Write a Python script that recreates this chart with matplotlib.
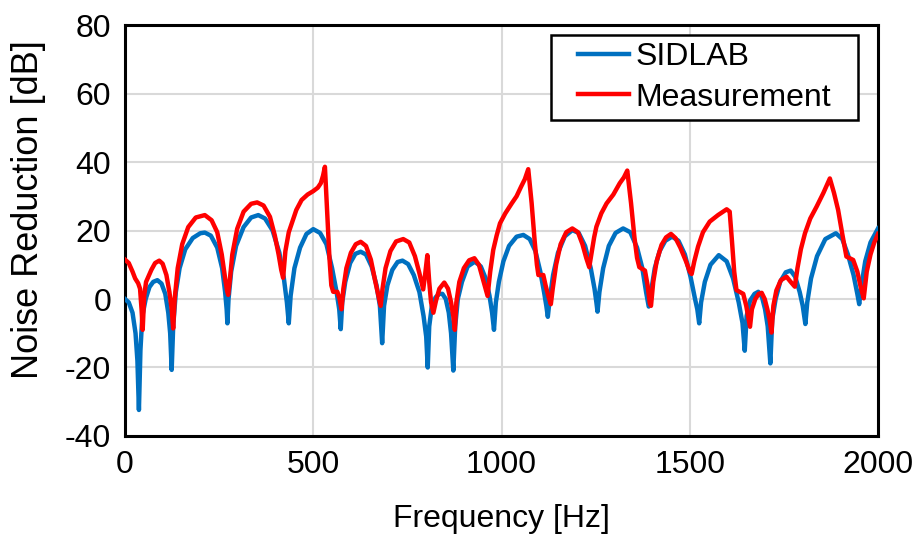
import matplotlib
matplotlib.use("Agg")
import matplotlib.pyplot as plt
from matplotlib.patches import Rectangle

plt.rcParams['font.family'] = ['Liberation Sans', 'DejaVu Sans']
plt.rcParams['axes.unicode_minus'] = False

# SIDLAB prediction (frequency [Hz], noise reduction [dB])
sid_f = [0, 10, 20, 28, 33, 37, 41, 46, 55, 65, 75, 86, 97, 107, 115, 120, 124, 128, 135, 145,
         160, 180, 200, 212, 228, 245, 258, 266, 270, 272, 275, 282, 295, 315, 335, 354, 372, 392,
         410, 422, 430, 435, 440, 450, 465, 482, 500, 518, 535, 550, 562, 569, 573, 577, 585, 598,
         612, 626, 640, 655, 668, 677, 683, 688, 697, 710, 724, 737, 752, 767, 782, 793, 800, 804,
         808, 815, 825, 835, 843, 852, 860, 866, 872, 877, 884, 895, 910, 929, 945, 958, 968, 975,
         980, 985, 993, 1005, 1020, 1040, 1058, 1075, 1090, 1103, 1113, 1119, 1123, 1128, 1137,
         1150, 1168, 1188, 1205, 1222, 1237, 1247, 1252, 1255, 1260, 1270, 1285, 1303, 1323, 1342,
         1360, 1374, 1384, 1391, 1397, 1407, 1420, 1435, 1453, 1470, 1487, 1502, 1514, 1520, 1525,
         1530, 1540, 1555, 1577, 1598, 1615, 1630, 1640, 1646, 1651, 1660, 1672, 1682, 1692, 1700,
         1707, 1714, 1719, 1728, 1740, 1755, 1768, 1780, 1792, 1800, 1807, 1812, 1822, 1838, 1860,
         1888, 1905, 1920, 1935, 1945, 1950, 1956, 1966, 1980, 2000]
sid_db = [0, -1, -4, -10, -18, -32.4, -15, -5, 0, 3.5, 5, 5.5, 4.5, 1.5, -4, -10, -20.7, -8, 2, 9,
          14.5, 17.8, 19.2, 19.4, 18.5, 15, 9, 2, -3, -7.1, 0, 8, 15.5, 21, 23.8, 24.5, 23.5, 20,
          13.5, 6, -1, -7.1, 1, 9, 15, 19, 20.4, 19.3, 16, 9, 2, -3, -8.8, -1, 5, 10.5,
          13.2, 13.8, 13, 9.5, 4, -2, -12.9, -2, 4, 8.5, 10.8, 11.2, 10.2, 7, 2, -5, -11, -20,
          -8, -2, 0.5, 1.5, 1.5, 0, -4, -10, -20.9, -8, 0, 5, 9.5, 10.9, 9.5, 6, 1, -4,
          -9, -1, 5, 11, 15.5, 18.2, 18.7, 17.5, 14, 8, 2, -2, -5.2, 0, 7,
          13.5, 18.3, 20.1, 19.3, 15.5, 9, 3, -1, -3.7, 2, 9, 15.5, 19.3, 20.6, 19.5,
          15, 9, 2, -2.2, 2, 9, 14, 17, 18.2, 17, 13, 6.5, 0, -3, -7.1,
          -1, 5, 10, 12.8, 11, 6, -1, -7, -15.1, -5, -0.5, 1.5, 2.1, 0.5, -3,
          -8, -18.8, -6, 0, 5, 7.8, 8.3, 6.5, 2, -2, -7.3, -1, 6, 12.5, 17.5,
          19.2, 17.5, 13, 7, 1.5, -1.5, 4, 11, 16.5, 20.6]

# Measurement
meas_f = [0, 10, 20, 27, 35, 40, 44, 47, 51, 56, 62, 70, 80, 91, 100, 110, 118, 124, 128, 132,
          140, 152, 168, 188, 212, 230, 245, 257, 266, 271, 274, 278, 285, 298, 315, 335, 351, 368,
          385, 398, 408, 415, 420, 426, 435, 443, 455, 469, 485, 500, 512, 520, 526, 531, 537, 543,
          548, 553, 564, 570, 575, 580, 588, 600, 613, 626, 640, 653, 665, 673, 679, 684, 692, 705,
          720, 739, 755, 770, 782, 792, 797, 803, 808, 813, 819, 826, 835, 848, 858, 866, 872, 876,
          880, 888, 900, 914, 928, 940, 950, 956, 963, 970, 978, 987, 996, 1010, 1027, 1040, 1052,
          1062, 1071, 1080, 1088, 1094, 1098, 1111, 1117, 1124, 1131, 1136, 1145, 1157, 1172, 1188,
          1203, 1215, 1225, 1233, 1240, 1246, 1252, 1265, 1279, 1297, 1314, 1325, 1334, 1344, 1353,
          1360, 1366, 1381, 1388, 1394, 1397, 1403, 1412, 1425, 1437, 1450, 1462, 1475, 1490, 1500,
          1505, 1512, 1522, 1535, 1553, 1575, 1598, 1606, 1612, 1618, 1624, 1642, 1650, 1655, 1660,
          1665, 1674, 1683, 1691, 1699, 1706, 1712, 1717, 1722, 1730, 1742, 1757, 1768, 1779, 1786,
          1795, 1806, 1820, 1837, 1855, 1872, 1883, 1894, 1905, 1916, 1934, 1945, 1955, 1962, 1970,
          1980, 1990, 2000]
meas_db = [11.5, 10.5, 8, 6, 4.6, 3, -3, -9, 1, 5, 6.5, 8.5, 10.5, 11.2, 10.3, 7, 2, -3, -8.6, 0,
           9, 16, 21, 23.8, 24.5, 23, 19.5, 13, 6, 2.5, 1.2, 5, 13, 20.5, 25.5, 27.8, 28.2, 27.3,
           24, 18.5, 13, 8.5, 6.2, 14, 19.5, 22.1, 26, 28.9, 30.5, 31.5, 32.5, 33.8, 36, 38.6, 25, 12,
           4, 2.1, 2.1, 0, -3, 3, 9, 13.5, 16, 16.7, 15.5, 11.5, 5, 1, -2, 3, 9, 14,
           16.8, 17.5, 16.5, 12.5, 7.5, 2.8, 7, 12.8, 5, -1, -4, -0.5, 3, 4.8, 3, -1, -5, -9,
           -1, 5, 9, 11.3, 11.9, 10, 6, 3.6, 0.9, 8, 14.3, 18.5, 22.1, 25, 27.9, 30, 32.8,
           35, 37.9, 28, 17, 10, 7, 7, 4, 1, -1.5, 3, 10, 16, 19.5, 20.6,
           19.5, 16, 12, 9.3, 14, 18, 21.1, 25, 27.9, 30.5, 33.8, 35.5, 37.5, 28, 18,
           12, 9.3, 8.3, 4, -1.3, -2, 5, 11, 15.8, 18, 19, 17.8, 15, 11, 8,
           7.3, 11, 15.3, 19.5, 22.6, 24.5, 26.2, 25.5, 17, 8, 2.6, 1.5, -2, -5, -8.1,
           -3, 0, 1.5, 1.8, 0, -3, -6, -9.8, -2, 2.5, 5.5, 6.5, 5, 3.6, 9,
           14.5, 19.2, 23.5, 27, 31, 35.2, 31, 26, 19, 12.4, 11.4, 8, 3, 0.2, 8,
           13, 16.5, 19]

xticks = [0, 500, 1000, 1500, 2000]
yticks = [-40, -20, 0, 20, 40, 60, 80]

fig = plt.figure(figsize=(9.15, 5.38), dpi=100)
ax = fig.add_axes([0.1366, 0.1896, 0.8230, 0.7639])

ax.plot(sid_f, sid_db, color='#0070C0', lw=3.2, label='SIDLAB', zorder=3,
        solid_joinstyle='round')
ax.plot(meas_f, meas_db, color='#FF0000', lw=3.2, label='Measurement', zorder=4,
        solid_joinstyle='round')

ax.set_xlim(0, 2000)
ax.set_ylim(-40, 80)
ax.set_xticks(xticks)
ax.set_yticks(yticks)
ax.grid(True, color='#d9d9d9', lw=1.5)
ax.set_axisbelow(True)
ax.tick_params(length=0, labelsize=23, pad=10)
for s in ax.spines.values():
    s.set_linewidth(2.2)
    s.set_color('black')

ax.set_xlabel('Frequency [Hz]', fontsize=23)
ax.xaxis.set_label_coords(0.5, -0.165)
ax.set_ylabel('Noise Reduction [dB]', fontsize=26)
ax.yaxis.set_label_coords(-0.105, 0.55)

leg = ax.legend(loc='upper right', bbox_to_anchor=(0.9469, 0.9757), fontsize=23,
                frameon=False, borderaxespad=0, handlelength=1.6, handletextpad=0.2,
                labelspacing=0.33, borderpad=0.22)
leg.set_zorder(6)

# legend box, wider than the entries like in the original
fig.canvas.draw()
bb = leg.get_window_extent().transformed(fig.transFigure.inverted())
hpad = 20 / 915
ax.add_patch(Rectangle((bb.x0 - hpad, bb.y0), bb.width + 2 * hpad, bb.height,
                       transform=fig.transFigure, facecolor='white', edgecolor='black',
                       lw=1.8, zorder=5.5, clip_on=False))

fig.savefig('out.png', dpi=100)
